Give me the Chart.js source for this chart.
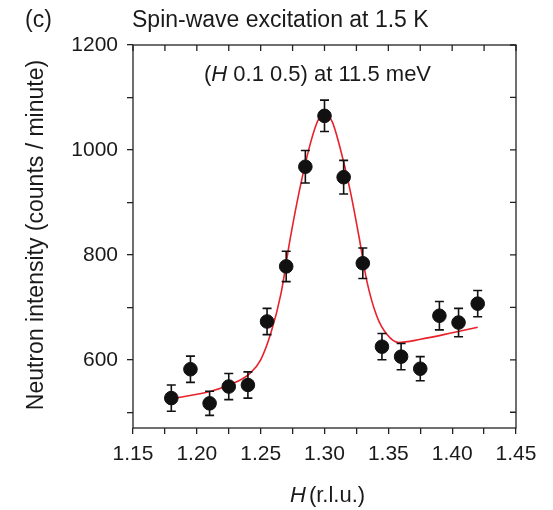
<!DOCTYPE html>
<html>
<head>
<meta charset="utf-8">
<script src="https://cdn.jsdelivr.net/npm/chart.js@4/dist/chart.umd.min.js"></script>
<style>
  body { margin: 0; background: #fff; }
  #wrap { width: 553px; height: 510px; }
</style>
</head>
<body>
<div id="wrap"><canvas id="chart" width="553" height="510"></canvas></div>
<script>
// measured points: H (r.l.u.), intensity, error
const hValues = [1.180, 1.195, 1.210, 1.225, 1.240, 1.255, 1.270, 1.285, 1.300, 1.315, 1.330, 1.345, 1.360, 1.375, 1.390, 1.405, 1.420];
const counts = [527, 582, 517, 549, 552, 673, 778, 968, 1065, 948, 784, 625, 606, 583, 684, 671, 707];
const errors = [25, 25, 23, 25, 25, 25, 29, 31, 30, 32, 29, 25, 25, 23, 27, 27, 25];

// red fit curve
const fitH = [1.180, 1.211, 1.232, 1.242, 1.250, 1.258, 1.266, 1.273, 1.281, 1.289, 1.295, 1.300, 1.306, 1.312, 1.320, 1.327, 1.333, 1.341, 1.349, 1.358, 1.375, 1.401, 1.420];
const fitCounts = [526, 540, 559, 575, 600, 651, 727, 829, 930, 1013, 1057, 1067, 1054, 1006, 924, 835, 752, 683, 648, 633, 639, 652, 662];

const FONT = '"Liberation Sans", Arial, sans-serif';
const TXT = '#1a1a1a';

// error bars, top/right inward ticks, frame and texts
const decor = {
  id: 'decor',
  afterDatasetsDraw(chart) {
    const ctx = chart.ctx;
    const x = chart.scales.x, y = chart.scales.y;
    ctx.save();
    ctx.strokeStyle = '#111';
    ctx.lineWidth = 1.6;
    hValues.forEach((h, i) => {
      const px = x.getPixelForValue(h);
      const top = y.getPixelForValue(counts[i] + errors[i]);
      const bot = y.getPixelForValue(counts[i] - errors[i]);
      ctx.beginPath();
      ctx.moveTo(px, top); ctx.lineTo(px, bot);
      ctx.moveTo(px - 4.5, top); ctx.lineTo(px + 4.5, top);
      ctx.moveTo(px - 4.5, bot); ctx.lineTo(px + 4.5, bot);
      ctx.stroke();
    });
    ctx.restore();
  },
  afterDraw(chart) {
    const ctx = chart.ctx;
    const x = chart.scales.x, y = chart.scales.y;
    const a = chart.chartArea;
    ctx.save();
    ctx.strokeStyle = '#222';
    ctx.lineWidth = 1.3;
    ctx.strokeRect(a.left, a.top, a.right - a.left, a.bottom - a.top);
    ctx.beginPath();
    x.ticks.forEach(t => {
      const px = x.getPixelForValue(t.value);
      ctx.moveTo(px, a.top); ctx.lineTo(px, a.top + 6);
    });
    y.ticks.forEach(t => {
      const py = y.getPixelForValue(t.value);
      ctx.moveTo(a.right, py); ctx.lineTo(a.right - 6, py);
    });
    ctx.stroke();

    ctx.fillStyle = TXT;
    ctx.textBaseline = 'middle';
    ctx.font = '23px ' + FONT;
    ctx.textAlign = 'left';
    ctx.fillText('(c)', 25, 21);
    ctx.fillText('Spin-wave excitation at 1.5 K', 132, 21);

    // inner label with italic H
    let cx = 204;
    const ly = 75;
    ctx.font = '22px ' + FONT;
    ctx.fillText('(', cx, ly); cx += ctx.measureText('(').width;
    ctx.font = 'italic 22px ' + FONT;
    ctx.fillText('H', cx, ly); cx += ctx.measureText('H').width;
    ctx.font = '22px ' + FONT;
    ctx.fillText(' 0.1 0.5) at 11.5 meV', cx, ly);

    // x title
    cx = 290;
    const ty = 496;
    ctx.font = 'italic 22px ' + FONT;
    ctx.fillText('H', cx, ty); cx += ctx.measureText('H').width + 3;
    ctx.font = '22px ' + FONT;
    ctx.fillText('(r.l.u.)', cx, ty);

    // y title
    ctx.translate(37, 235);
    ctx.rotate(-Math.PI / 2);
    ctx.textAlign = 'center';
    ctx.font = '23px ' + FONT;
    ctx.fillText('Neutron intensity (counts / minute)', 0, 0);
    ctx.restore();
  }
};

new Chart(document.getElementById('chart'), {
  type: 'scatter',
  data: {
    datasets: [
      {
        type: 'line',
        data: fitH.map((h, i) => ({ x: h, y: fitCounts[i] })),
        borderColor: '#e8212b',
        borderWidth: 1.6,
        pointRadius: 0,
        tension: 0.4,
        cubicInterpolationMode: 'monotone',
        fill: false,
        order: 2
      },
      {
        data: hValues.map((h, i) => ({ x: h, y: counts[i] })),
        backgroundColor: '#111',
        borderColor: '#111',
        pointRadius: 6.8,
        order: 1
      }
    ]
  },
  plugins: [decor],
  options: {
    responsive: false,
    animation: false,
    layout: { padding: { top: 45, right: 37, left: 0, bottom: 0 } },
    plugins: { legend: { display: false }, tooltip: { enabled: false } },
    scales: {
      x: {
        type: 'linear',
        min: 1.15, max: 1.45,
        afterFit: s => { s.height = 82; },
        border: { display: false },
        grid: { drawOnChartArea: false, color: '#222', lineWidth: 1.3, tickLength: 6 },
        ticks: {
          stepSize: 0.025,
          includeBounds: false,
          autoSkip: false,
          maxRotation: 0,
          padding: 8,
          color: TXT,
          font: { family: FONT, size: 21 },
          callback: v => Math.abs(v * 20 - Math.round(v * 20)) < 1e-6 ? v.toFixed(2) : ''
        }
      },
      y: {
        min: 470, max: 1200,
        afterFit: s => { s.width = 133; },
        border: { display: false },
        grid: { drawOnChartArea: false, color: '#222', lineWidth: 1.3, tickLength: 6 },
        ticks: {
          stepSize: 100,
          includeBounds: false,
          autoSkip: false,
          padding: 9,
          color: TXT,
          font: { family: FONT, size: 21 },
          callback: v => v % 200 === 0 ? String(v) : ''
        }
      }
    }
  }
});
</script>
</body>
</html>
